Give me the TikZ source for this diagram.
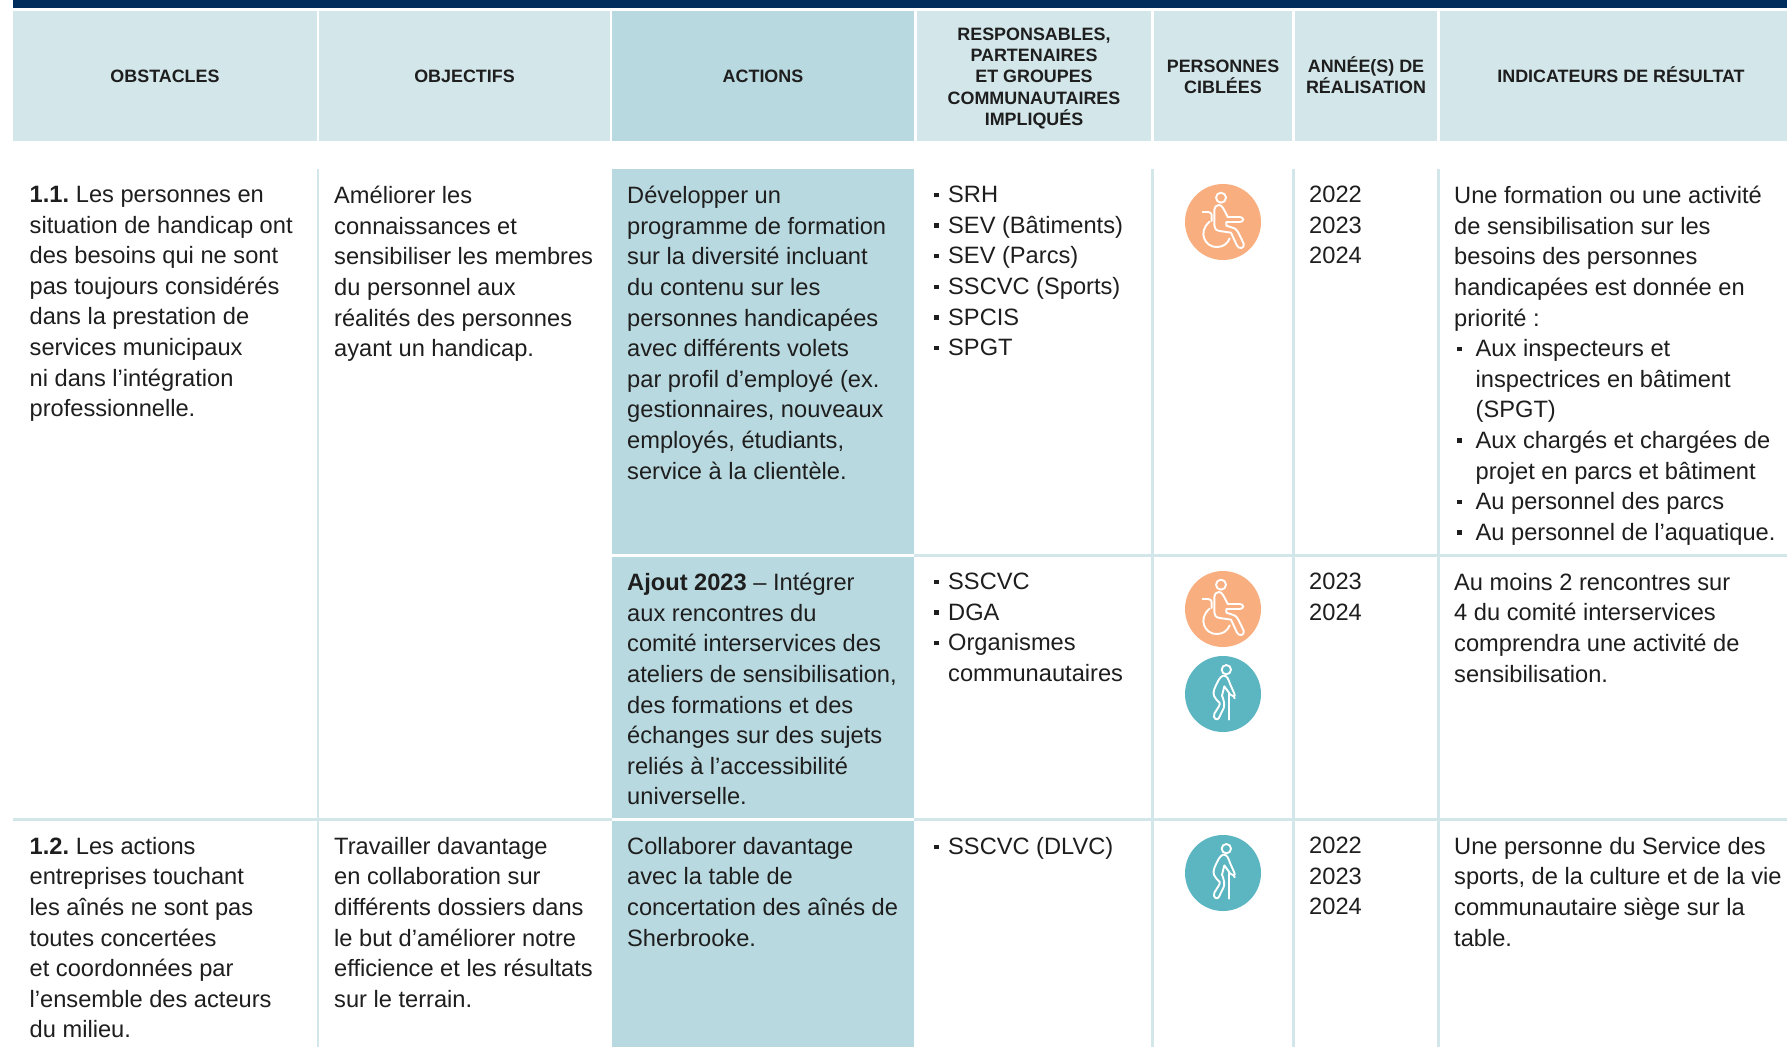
\documentclass[tikz,border=0pt]{standalone}
\usepackage{fontspec}
\setmainfont{Liberation Sans}
\definecolor{navy}{HTML}{002D5B}
\definecolor{pale}{HTML}{D3E6EA}
\definecolor{mid}{HTML}{B9D9E0}
\definecolor{ink}{HTML}{1E1E1E}
\definecolor{orangeic}{HTML}{F9AE7F}
\definecolor{tealic}{HTML}{5BB6C1}
\newcommand{\blt}{\makebox[15pt][l]{\hspace{1pt}\raisebox{5.5pt}{\rule{4.5pt}{4.5pt}}}}
\newcommand{\ind}{\makebox[15pt]{}}
\newcommand{\bltb}{\makebox[21.5pt][l]{\hspace{3pt}\raisebox{5.5pt}{\rule{4.5pt}{4.5pt}}}}
\newcommand{\indb}{\makebox[21.5pt]{}}
\newcommand{\wheelicon}[1]{%
  \begin{scope}[shift={#1}]
    \fill[orangeic] (0,0) circle[radius=38];
    \begin{scope}[xscale=1/3,yscale=1/3,xshift=-248,yshift=185,icon]
      \draw (242,112) circle[radius=15];
      \draw (236,134) .. controls (245,134) and (250,145) .. (262,170) -- (298,170)
        .. controls (312,170) and (312,185) .. (298,185) -- (258,185) -- (258,196) -- (282,204)
        .. controls (290,208) and (292,212) .. (310,250)
        .. controls (314,264) and (296,268) .. (290,256) -- (272,217) -- (238,212)
        .. controls (226,210) and (222,204) .. (222,195) -- (222,148)
        .. controls (222,140) and (228,134) .. (236,134) -- cycle;
      \draw (187,155) -- (204,155) .. controls (212,155) and (214,160) .. (214,170) -- (214,182);
      \draw (208,184) .. controls (170,215) and (195,262) .. (230,260)
        .. controls (248,260) and (262,250) .. (268,234);
    \end{scope}
  \end{scope}}
\newcommand{\walkicon}[1]{%
  \begin{scope}[shift={#1}]
    \fill[tealic] (0,0) circle[radius=38];
    \begin{scope}[xscale=1/3,yscale=1/3,xshift=-248,yshift=163,icon]
      \draw (258,90) circle[radius=14];
      \draw (248,108) .. controls (238,112) and (232,125) .. (222,148)
        .. controls (216,165) and (220,172) .. (238,190)
        .. controls (240,196) and (232,205) .. (222,222)
        .. controls (216,238) and (232,244) .. (236,234) -- (250,205)
        .. controls (254,195) and (250,180) .. (245,168) -- (252,140) -- (270,165) -- (280,170)
        .. controls (284,172) and (284,165) .. (282,162) -- (270,135)
        .. controls (264,118) and (260,106) .. (248,108) -- cycle;
      \draw (265,160) -- (265,240);
      \draw (280,170) -- (283,176);
    \end{scope}
  \end{scope}}
\tikzset{
  hdr/.style={font=\bfseries\fontsize{17.9}{21.3}\selectfont, text=ink, align=center, anchor=center, inner sep=0pt},
  cell/.style={font=\fontsize{23.65}{30.6}\selectfont, text=ink, align=left, anchor=north west, inner sep=0pt, execute at begin node={\vphantom{é}}},
  rule/.style={pale, line width=2.5pt},
  icon/.style={draw=white, line width=1.9pt, line join=round, line cap=round, fill=none},
}
\begin{document}
\begin{tikzpicture}[x=1pt,y=-1pt]
\useasboundingbox (0,0) rectangle (1787,1047);
\fill[white] (0,0) rectangle (1787,1047);
% top band
\fill[navy] (13,0) rectangle (1787,8);
% header
\fill[pale] (13,11) rectangle (316.5,141);
\fill[pale] (319,11) rectangle (609.5,141);
\fill[mid] (612,11) rectangle (914,141);
\fill[pale] (917,11) rectangle (1151,141);
\fill[pale] (1153.5,11) rectangle (1292,141);
\fill[pale] (1294.5,11) rectangle (1437,141);
\fill[pale] (1439.5,11) rectangle (1787,141);
% body fills
\fill[mid] (612,169) rectangle (914,554);
\fill[mid] (612,557) rectangle (914,818);
\fill[mid] (612,821) rectangle (914,1047);
% rules
\draw[rule] (318,169) -- (318,1047);
\draw[rule] (1152.5,169) -- (1152.5,1047);
\draw[rule] (1293.5,169) -- (1293.5,1047);
\draw[rule] (1438.5,169) -- (1438.5,1047);
\draw[rule] (914,555.5) -- (1787,555.5);
\draw[rule] (13,819.5) -- (612,819.5);
\draw[rule] (914,819.5) -- (1787,819.5);
% header text
\node[hdr] (h1) at (165,76.3) {OBSTACLES};
\node[hdr] (h2) at (464.5,76.3) {OBJECTIFS};
\node[hdr] (h3) at (763,76.3) {ACTIONS};
\node[hdr] (h4) at (1034,78.5) {RESPONSABLES,\\PARTENAIRES\\ET GROUPES\\COMMUNAUTAIRES\\IMPLIQUÉS};
\node[hdr] (h5) at (1223,76.5) {PERSONNES\\CIBLÉES};
\node[hdr] (h6) at (1366,75.5) {ANNÉE(S) DE\\RÉALISATION};
\node[hdr] (h7) at (1621,74.7) {INDICATEURS DE RÉSULTAT};
% row 1
\node[cell] (a1) at (29.5,186) {\textbf{1.1.}\hspace{-2pt} Les personnes en\\situation de handicap ont\\des besoins qui ne sont\\pas toujours considérés\\dans la prestation de\\services municipaux\\ni dans l’intégration\\professionnelle.};
\node[cell] (b1) at (334,186) {Améliorer les\\connaissances et\\sensibiliser les membres\\du personnel aux\\réalités des personnes\\ayant un handicap.};
\node[cell] (c1) at (627,186) {Développer un\\programme de formation\\sur la diversité incluant\\du contenu sur les\\personnes handicapées\\avec différents volets\\par profil d’employé (ex.\\gestionnaires, nouveaux\\employés, étudiants,\\service à la clientèle.};
\node[cell] (d1) at (933,186) {\blt SRH\\\blt SEV (Bâtiments)\\\blt SEV (Parcs)\\\blt SSCVC (Sports)\\\blt SPCIS\\\blt SPGT};
\node[cell] (f1) at (1309,186) {2022\\2023\\2024};
\node[cell] (g1) at (1454,186) {Une formation ou une activité\\de sensibilisation sur les\\besoins des personnes\\handicapées est donnée en\\priorité :\\\bltb Aux inspecteurs et\\\indb inspectrices en bâtiment\\\indb (SPGT)\\\bltb Aux chargés et chargées de\\\indb projet en parcs et bâtiment\\\bltb Au personnel des parcs\\\bltb Au personnel de l’aquatique.};
% row 2
\node[cell] (c2) at (627,573) {\textbf{Ajout 2023} – Intégrer\\aux rencontres du\\comité interservices des\\ateliers de sensibilisation,\\des formations et des\\échanges sur des sujets\\reliés à l’accessibilité\\universelle.};
\node[cell] (d2) at (933,573) {\blt SSCVC\\\blt DGA\\\blt Organismes\\\ind communautaires};
\node[cell] (f2) at (1309,573) {2023\\2024};
\node[cell] (g2) at (1454,573) {Au moins 2 rencontres sur\\4 du comité interservices\\comprendra une activité de\\sensibilisation.};
% row 3
\node[cell] (a3) at (29.5,837) {\textbf{1.2.}\hspace{-2pt} Les actions\\entreprises touchant\\les aînés ne sont pas\\toutes concertées\\et coordonnées par\\l’ensemble des acteurs\\du milieu.};
\node[cell] (b3) at (334,837) {Travailler davantage\\en collaboration sur\\différents dossiers dans\\le but d’améliorer notre\\efficience et les résultats\\sur le terrain.};
\node[cell] (c3) at (627,837) {Collaborer davantage\\avec la table de\\concertation des aînés de\\Sherbrooke.};
\node[cell] (d3) at (933,837) {\blt SSCVC (DLVC)};
\node[cell] (f3) at (1309,837) {2022\\2023\\2024};
\node[cell] (g3) at (1454,837) {Une personne du Service des\\sports, de la culture et de la vie\\communautaire siège sur la\\table.};
% icons
\wheelicon{(1223,222)}
\wheelicon{(1223,609)}
\walkicon{(1223,694)}
\walkicon{(1223,873)}
\end{tikzpicture}
\end{document}
